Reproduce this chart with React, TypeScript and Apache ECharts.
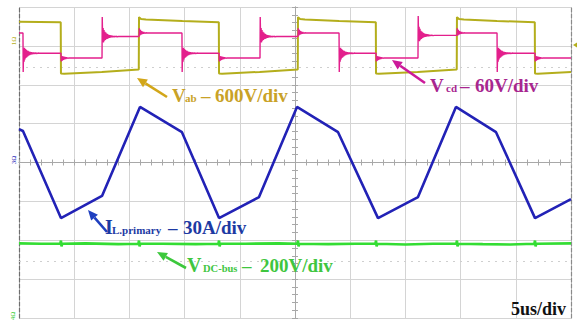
import React, { useEffect, useRef } from "react";
import * as echarts from "echarts";

// Time axis in microseconds (5 us/div, 10 div), vertical axis in divisions (8 div)
const T_MIN = -25;
const T_MAX = 25;
const DIV_MIN = -4;
const DIV_MAX = 4;

// ---- V_ab (olive), in divisions ----
const vabPoints: [number, number][] = [
  [-25.0, 3.62], [-21.22, 3.61], [-21.2, 2.29], [-20.9, 2.28], [-17.5, 2.33], [-14.15, 2.39],
  [-14.13, 3.74], [-13.95, 3.69], [-13.5, 3.68], [-10.2, 3.64], [-6.9, 3.61],
  [-6.88, 2.29], [-6.6, 2.28], [-3.2, 2.33], [0.25, 2.39],
  [0.27, 3.74], [0.45, 3.69], [0.9, 3.68], [4.0, 3.64], [7.32, 3.61],
  [7.34, 2.29], [7.6, 2.28], [11.1, 2.33], [14.65, 2.39],
  [14.67, 3.74], [14.85, 3.69], [15.3, 3.68], [18.3, 3.64], [21.72, 3.61],
  [21.74, 2.29], [22.0, 2.28], [25.0, 2.33],
];

// ---- V_cd (magenta) : start level and level changes [time, new level, ringing kind] ----
const vcdStart = 3.33;
const vcdEvents: [number, number, string][] = [
  [-24.64, 2.81, "down"], [-21.2, 2.69, "step"], [-17.48, 3.24, "up"], [-14.13, 3.33, "stepUp"],
  [-10.24, 2.81, "down"], [-6.88, 2.69, "step"], [-3.17, 3.24, "up"], [0.27, 3.33, "stepUp"],
  [3.99, 2.81, "down"], [7.34, 2.69, "step"], [11.14, 3.27, "up"], [14.67, 3.33, "stepUp"],
  [18.3, 2.81, "down"], [21.74, 2.69, "step"],
];
// ringing shapes: [dt us, offset from new level in div]
const ringDown: [number, number][] = [
  [0.02, -0.48], [0.06, 0.1], [0.1, -0.22], [0.14, 0.14], [0.18, -0.16], [0.22, 0.11], [0.26, -0.12],
  [0.3, 0.09], [0.34, -0.1], [0.38, 0.07], [0.42, -0.08], [0.46, 0.06], [0.5, -0.06], [0.55, 0.045],
  [0.6, -0.045], [0.65, 0.035], [0.7, -0.035], [0.76, 0.028], [0.82, -0.028], [0.88, 0.02],
  [0.94, -0.02], [1.0, 0.015], [1.08, -0.012], [1.16, 0.01], [1.25, -0.008], [1.35, 0.005], [1.5, 0],
];
const ringUp: [number, number][] = [
  [0.02, 0.5], [0.06, -0.12], [0.1, 0.22], [0.14, -0.15], [0.18, 0.17], [0.22, -0.11], [0.26, 0.12],
  [0.3, -0.09], [0.34, 0.1], [0.38, -0.07], [0.42, 0.08], [0.46, -0.06], [0.5, 0.06], [0.55, -0.045],
  [0.6, 0.045], [0.65, -0.035], [0.7, 0.035], [0.76, -0.028], [0.82, 0.028], [0.88, -0.02],
  [0.94, 0.02], [1.0, -0.015], [1.08, 0.012], [1.16, -0.01], [1.25, 0.008], [1.35, -0.005], [1.5, 0],
];
const ringStep: [number, number][] = [
  [0.03, -0.09], [0.08, 0.05], [0.13, -0.07], [0.18, 0.04], [0.23, -0.05], [0.28, 0.03],
  [0.33, -0.035], [0.38, 0.02], [0.44, -0.02], [0.52, 0.01], [0.62, -0.008], [0.75, 0],
];
const ringStepUp: [number, number][] = [
  [0.03, 0.12], [0.08, -0.06], [0.13, 0.08], [0.18, -0.04], [0.23, 0.05], [0.28, -0.03],
  [0.33, 0.035], [0.38, -0.02], [0.44, 0.02], [0.52, -0.01], [0.62, 0.008], [0.75, 0],
];

// ---- I_L primary (blue) corner points, in divisions ----
const ilPoints: [number, number][] = [
  [-25.0, 0.86], [-24.64, 0.81], [-21.2, -1.43], [-17.48, -0.86], [-14.04, 1.43], [-10.24, 0.78],
  [-6.88, -1.43], [-3.26, -0.89], [0.18, 1.43], [3.9, 0.78], [7.52, -1.43], [11.14, -0.89],
  [14.58, 1.43], [18.21, 0.78], [21.74, -1.43], [25.0, -0.94],
];

// ---- V_DC-bus (green) ----
const dcLevel: [number, number][] = [
  [-25, -2.08], [-23, -2.09], [-19, -2.08], [-16, -2.1], [-12, -2.09], [-9, -2.1], [-4.5, -2.09],
  [-1.5, -2.08], [3, -2.1], [5.5, -2.09], [10, -2.11], [12.5, -2.09], [17, -2.1], [19.5, -2.11], [25, -2.08],
];
const dcSpikeTimes = [-21.2, -14.13, -6.88, 0.27, 7.34, 14.67, 21.74];
const dcSpikeShape: [number, number][] = [[-0.06, -2.09], [0, -2.01], [0.05, -2.16], [0.12, -2.09]];

// cursor (dotted) lines
const cursorLevels = [2.46, -2.53];

function buildVcd(): [number, number][] {
  const pts: [number, number][] = [[T_MIN, vcdStart]];
  let level = vcdStart;
  const shapes: Record<string, [number, number][]> = { down: ringDown, up: ringUp, step: ringStep, stepUp: ringStepUp };
  for (const [t, next, kind] of vcdEvents) {
    pts.push([t, level]);
    for (const [dt, dy] of shapes[kind]) pts.push([t + dt, next + dy]);
    level = next;
  }
  pts.push([T_MAX, level]);
  return pts;
}

function buildDc(): [number, number][] {
  const pts: [number, number][] = [...dcLevel];
  for (const t of dcSpikeTimes) for (const [dt, v] of dcSpikeShape) pts.push([t + dt, v]);
  pts.sort((a, b) => a[0] - b[0]);
  return pts;
}

const SERIF = '"Liberation Serif", "Times New Roman", serif';

function txt(text: string, x: number, baseline: number, size: number, color: string) {
  return {
    type: "text",
    x,
    y: baseline - 0.34 * size,
    z: 100,
    style: {
      text,
      fill: color,
      font: `bold ${size}px ${SERIF}`,
      textAlign: "left",
      textVerticalAlign: "middle",
    },
  };
}

function arrow(x1: number, y1: number, x2: number, y2: number, color: string) {
  const ang = Math.atan2(y2 - y1, x2 - x1);
  const L = 10;
  const W = 4.5;
  const bx = x2 - L * Math.cos(ang);
  const by = y2 - L * Math.sin(ang);
  const px = -Math.sin(ang);
  const py = Math.cos(ang);
  return [
    { type: "line", z: 100, shape: { x1, y1, x2: bx, y2: by }, style: { stroke: color, lineWidth: 2.6 } },
    {
      type: "polygon",
      z: 100,
      shape: { points: [[x2, y2], [bx + px * W, by + py * W], [bx - px * W, by - py * W]] },
      style: { fill: color },
    },
  ];
}

export default function App() {
  const ref = useRef<HTMLDivElement>(null);
  useEffect(() => {
    if (!ref.current) return;
    const chart = echarts.init(ref.current, undefined, { renderer: "svg" });
    const tickCol = "#a8a8a8";
    const gridCol = "#d4d4d4";
    const centerAxisX = (pos: string, idx: number | undefined) => ({
      type: "value",
      min: T_MIN,
      max: T_MAX,
      interval: 5,
      position: pos,
      axisLine: { show: true, onZero: true, onZeroAxisIndex: idx, lineStyle: { color: tickCol, width: 1 } },
      axisTick: { show: true, inside: true, length: 3, lineStyle: { color: tickCol } },
      minorTick: { show: true, splitNumber: 5, length: 3, lineStyle: { color: tickCol } },
      axisLabel: { show: false },
      splitLine: { show: pos === "bottom", lineStyle: { color: gridCol, width: 1 } },
      minorSplitLine: { show: false },
    });
    const centerAxisY = (pos: string, idx: number | undefined) => ({
      type: "value",
      min: DIV_MIN,
      max: DIV_MAX,
      interval: 1,
      position: pos,
      axisLine: { show: true, onZero: true, onZeroAxisIndex: idx, lineStyle: { color: tickCol, width: 1 } },
      axisTick: { show: true, inside: true, length: 3, lineStyle: { color: tickCol } },
      minorTick: { show: true, splitNumber: 5, length: 3, lineStyle: { color: tickCol } },
      axisLabel: { show: false },
      splitLine: { show: pos === "left", lineStyle: { color: gridCol, width: 1 } },
    });
    const borderY = (pos: string, color: string) => ({
      type: "value",
      min: DIV_MIN,
      max: DIV_MAX,
      interval: 1,
      position: pos,
      axisLine: { show: true, onZero: false, lineStyle: { color, width: 1.2, type: [4, 2] } },
      axisTick: { show: false },
      axisLabel: { show: false },
      splitLine: { show: false },
    });

    const option: any = {
      animation: false,
      backgroundColor: "#ffffff",
      grid: { left: 19, top: 7, width: 552, height: 311, show: false },
      xAxis: [centerAxisX("bottom", 0), centerAxisX("top", 0)],
      yAxis: [centerAxisY("left", 0), centerAxisY("right", 0), borderY("left", "#6e6e6e"), borderY("right", "#8a8a8a")],
      series: [
        {
          type: "line",
          name: "V_DC-bus",
          data: buildDc(),
          showSymbol: false,
          z: 3,
          lineStyle: { color: "#33dd33", width: 2.6 },
          markLine: {
            silent: true,
            symbol: "none",
            label: { show: false },
            lineStyle: { color: "#cfcfcf", width: 1, type: [2, 5] },
            data: cursorLevels.map((v) => ({ yAxis: v })),
          },
        },
        {
          type: "line",
          name: "I_L.primary",
          data: ilPoints,
          showSymbol: false,
          z: 4,
          lineStyle: { color: "#2222b6", width: 2.6 },
        },
        {
          type: "line",
          name: "V_ab",
          data: vabPoints,
          showSymbol: false,
          z: 5,
          lineStyle: { color: "#b4ae1c", width: 2 },
        },
        {
          type: "line",
          name: "V_cd",
          data: buildVcd(),
          showSymbol: false,
          z: 6,
          lineStyle: { color: "#e31f8c", width: 1.4 },
        },
      ],
      graphic: [
        // V_ab label
        ...arrow(167, 97, 137, 78, "#d2a619"),
        txt("V", 172, 102, 19, "#c9a227"),
        txt("ab", 185, 102, 11, "#c9a227"),
        txt("–", 201, 102, 19, "#c9a227"),
        txt("600V/div", 215, 102, 19, "#c9a227"),
        // V_cd label
        ...arrow(425, 83, 392, 60, "#cc1a9a"),
        txt("V", 430, 92, 19, "#a8268f"),
        txt("cd", 446, 92, 11, "#a8268f"),
        txt("–", 460, 92, 19, "#a8268f"),
        txt("60V/div", 475, 92, 19, "#a8268f"),
        // I_L label
        ...arrow(107, 232, 88, 210, "#1f3fbf"),
        txt("I", 105, 234, 20, "#1d3aa3"),
        txt("L.primary", 112, 234, 11, "#1d3aa3"),
        txt("–", 168, 234, 19, "#1d3aa3"),
        txt("30A/div", 183, 234, 19, "#1d3aa3"),
        // V_DC-bus label
        ...arrow(186, 268, 157, 252, "#3cc83c"),
        txt("V", 187, 272, 20, "#3fc63f"),
        txt("DC-bus", 203, 272, 10.5, "#3fc63f"),
        txt("–", 242, 272, 19, "#3fc63f"),
        txt("200V/div", 260, 272, 19, "#3fc63f"),
        // time base
        txt("5us/div", 511, 315, 18, "#111111"),
        // channel markers
        {
          type: "text", x: 14, y: 41, rotation: Math.PI / 2, z: 100,
          style: { text: "1Ω", fill: "#b4ae1c", font: `7px ${SERIF}`, textAlign: "center", textVerticalAlign: "middle" },
        },
        {
          type: "text", x: 14, y: 160, rotation: Math.PI / 2, z: 100,
          style: { text: "3Ω", fill: "#2424b8", font: `7px ${SERIF}`, textAlign: "center", textVerticalAlign: "middle" },
        },
        {
          type: "text", x: 13, y: 316, rotation: Math.PI / 2, z: 100,
          style: { text: "4Ω", fill: "#33cc33", font: `7px ${SERIF}`, textAlign: "center", textVerticalAlign: "middle" },
        },
        {
          type: "polygon", z: 100,
          shape: { points: [[573, 45], [577, 42.5], [577, 47.5]] },
          style: { fill: "#b4ae1c" },
        },
      ],
    };
    chart.setOption(option);
    return () => chart.dispose();
  }, []);
  return (
    <div
      ref={ref}
      style={{ position: "fixed", left: 0, top: 0, width: 579, height: 323, background: "#fff" }}
    />
  );
}
